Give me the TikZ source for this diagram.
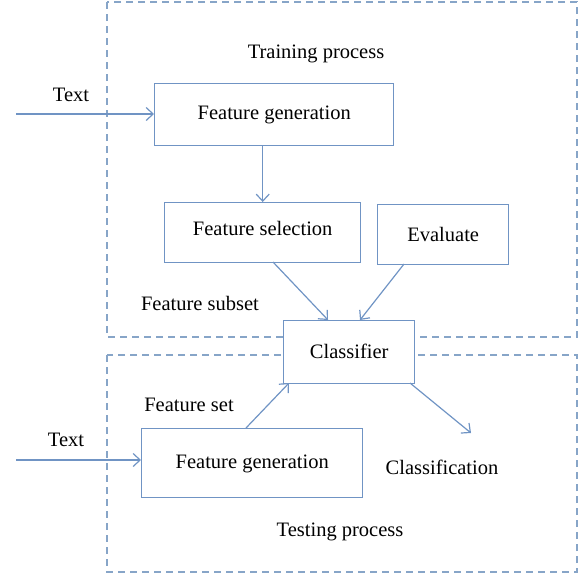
\documentclass[tikz,border=0pt]{standalone}
\usepackage{fontspec}
\setmainfont{Liberation Serif}
\usetikzlibrary{arrows.meta}
\definecolor{lineblue}{RGB}{112,148,196}
\definecolor{dashblue}{RGB}{135,165,200}
\begin{document}
\begin{tikzpicture}[x=1pt,y=-1pt,
  box/.style={draw=lineblue,line width=1.4pt,fill=white},
  region/.style={draw=dashblue,line width=1.3pt,dash pattern=on 7pt off 5pt},
  conn/.style={draw=lineblue,line width=1.2pt,-{Straight Barb[length=7pt,width=13pt]}},
  lbl/.style={font=\fontsize{20.5}{24}\selectfont,inner sep=0pt}]
\useasboundingbox (0,0) rectangle (585,576);
\draw[region] (107,2) rectangle (577,337);
\draw[region] (107,355) rectangle (577,572);
\node[box,minimum width=239pt,minimum height=62pt,anchor=north west] (fg1) at (154,83) {};
\node[lbl] at ([yshift=0pt]fg1.center) {Feature generation};
\node[box,minimum width=196pt,minimum height=60pt,anchor=north west] (fs) at (164,202) {};
\node[lbl] at ([yshift=4pt]fs.center) {Feature selection};
\node[box,minimum width=131pt,minimum height=60pt,anchor=north west] (ev) at (377,204) {};
\node[lbl] at ([yshift=0pt]ev.center) {Evaluate};
\node[box,minimum width=131pt,minimum height=63pt,anchor=north west] (cl) at (283,320) {};
\node[lbl] at ([yshift=1pt]cl.center) {Classifier};
\node[box,minimum width=221pt,minimum height=69pt,anchor=north west] (fg2) at (141,428) {};
\node[lbl] at ([yshift=-1pt]fg2.center) {Feature generation};
\coordinate (t1) at (16,114);
\coordinate (t2) at (16,460);
\coordinate (out) at (471,433);
\node[lbl] (lt1) at (71,95) {Text};
\node[lbl] (lt2) at (66,440) {Text};
\node[lbl] (ltr) at (316,54) {Training process};
\node[lbl] (lfs) at (200,303) {Feature subset};
\node[lbl] (lfset) at (189,405) {Feature set};
\node[lbl] (lcl) at (442,467) {Classification};
\node[lbl] (lte) at (340,532) {Testing process};
\draw[conn] (t1) -- (t1 -| fg1.west);
\draw[conn] (t2) -- (t2 -| fg2.west);
\draw[conn] (fs.north |- fg1.south) -- (fs.north);
\draw[conn] (273,262) -- (328,320);
\draw[conn] (404,264) -- (360,320);
\draw[conn] (246,428) -- (289,383);
\draw[conn] (410,383) -- (out);
\end{tikzpicture}
\end{document}
